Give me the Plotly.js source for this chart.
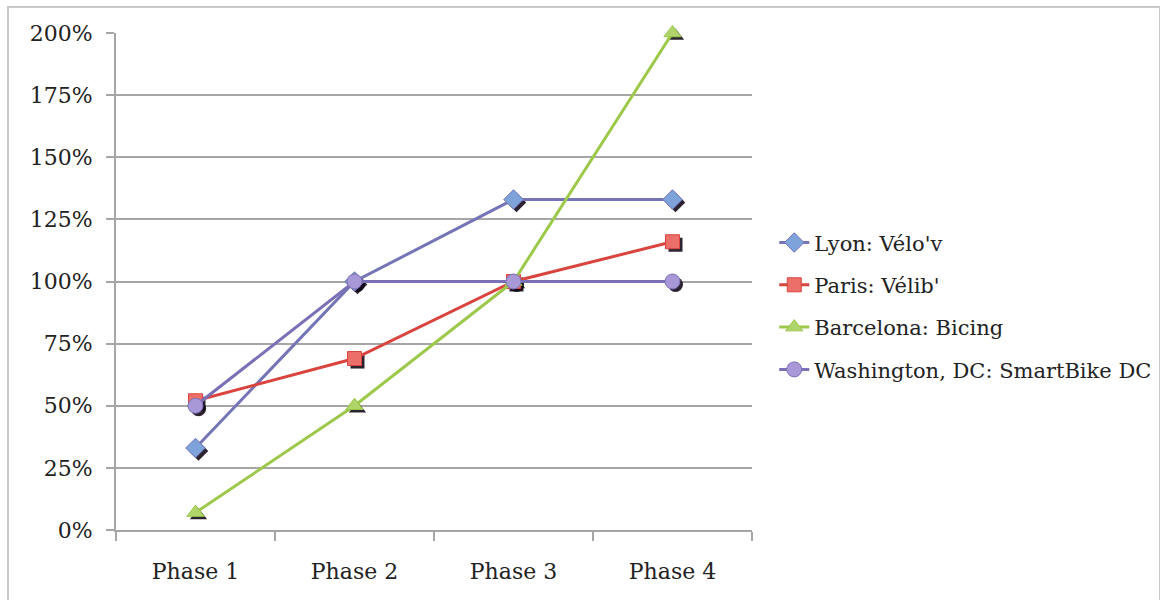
<!DOCTYPE html>
<html>
<head>
<meta charset="utf-8">
<script src="https://cdn.plot.ly/plotly-3.0.1.min.js"></script>
<style>
  html, body { margin: 0; padding: 0; background: #fff; }
  #chart { position: absolute; left: 0; top: 0; width: 1160px; height: 600px; }
  #frame { position: absolute; left: 7px; top: 6px; width: 1150px; height: 620px;
           border: 2px solid #c9c9c9; pointer-events: none; }
</style>
</head>
<body>
<div id="chart"></div>
<div id="frame"></div>
<script>
// Growth of bike-share systems by rollout phase (percent)
const phases = ['Phase 1', 'Phase 2', 'Phase 3', 'Phase 4'];
const lyon = [33, 100, 133, 133];
const paris = [52, 69, 100, 116];
const barcelona = [7, 50, 100, 200];
const washington = [50, 100, 100, 100];
const yTicks = [0, 25, 50, 75, 100, 125, 150, 175, 200];
const yTickText = yTicks.map(v => v + '%');

const seriesDefs = [
  { name: 'Lyon: Vélo\'v', y: lyon, line: '#7474b6', fill: '#7ea3da', symbol: 'diamond', size: 15 },
  { name: 'Paris: Vélib\'', y: paris, line: '#d9443f', fill: '#ec6f69', symbol: 'square', size: 14 },
  { name: 'Barcelona: Bicing', y: barcelona, line: '#9dc94a', fill: '#aed46a', symbol: 'triangle-up', size: 15 },
  { name: 'Washington, DC: SmartBike DC', y: washington, line: '#7a70b6', fill: '#a898d8', symbol: 'circle', size: 15 }
];

const font = 'DejaVu Serif, serif';
const plotW = 636, plotH = 497;
const dx = 3 / plotW * 4;       // shadow offset in category units
const dy = 3 / plotH * 200;     // shadow offset in percent units

const traces = [];
// empty trace that holds the visible axes and gridlines
traces.push({
  x: phases, y: phases.map(() => null), xaxis: 'x', yaxis: 'y', type: 'scatter',
  mode: 'markers', showlegend: false, hoverinfo: 'skip'
});
// drop shadows under the markers
seriesDefs.forEach(s => {
  traces.push({
    x: phases, y: s.y, xaxis: 'x2', yaxis: 'y2', type: 'scatter', mode: 'markers',
    showlegend: false, hoverinfo: 'skip', cliponaxis: false,
    marker: { symbol: s.symbol, size: s.size, color: 'rgba(15,5,20,0.88)' }
  });
});
// series lines and markers
seriesDefs.forEach((s, i) => {
  traces.push({
    x: phases, y: s.y, xaxis: 'x3', yaxis: 'y3', type: 'scatter', mode: 'lines+markers',
    name: s.name, legendgroup: 'g' + i, cliponaxis: false,
    line: { color: s.line, width: 3 },
    marker: { symbol: s.symbol, size: s.size, color: s.fill, line: { color: s.line, width: 1 } }
  });
});

const hidden = { visible: false, fixedrange: true };
const layout = {
  width: 1160, height: 600,
  margin: { l: 116, r: 408, t: 33, b: 70, autoexpand: false },
  paper_bgcolor: '#ffffff', plot_bgcolor: '#ffffff',
  font: { family: font, size: 22, color: '#222' },
  showlegend: true,
  legend: {
    x: 1.035, xanchor: 'left', y: 0.45, yanchor: 'middle',
    font: { family: font, size: 21, color: '#222' },
    bgcolor: 'rgba(0,0,0,0)', itemwidth: 30, tracegroupgap: 12
  },
  xaxis: {
    type: 'category', categoryorder: 'array', categoryarray: phases,
    range: [-0.5, 3.5], tickson: 'boundaries',
    ticks: 'outside', ticklen: 9, tickwidth: 2, tickcolor: '#a6a6a6',
    showline: true, linecolor: '#a6a6a6', linewidth: 2,
    showgrid: false, zeroline: false,
    tickfont: { family: font, size: 22, color: '#222' }, ticklabelstandoff: 21
  },
  yaxis: {
    range: [0, 200], tickvals: yTicks, ticktext: yTickText,
    ticks: 'outside', ticklen: 8, tickwidth: 2, tickcolor: '#a6a6a6',
    showline: true, linecolor: '#a6a6a6', linewidth: 2,
    showgrid: true, gridcolor: '#a6a6a6', gridwidth: 2, zeroline: false,
    tickfont: { family: font, size: 22, color: '#222' }, ticklabelstandoff: 9
  },
  xaxis2: Object.assign({ overlaying: 'x', type: 'category', categoryarray: phases,
                          range: [-0.5 - dx, 3.5 - dx] }, hidden),
  yaxis2: Object.assign({ overlaying: 'y', range: [dy, 200 + dy] }, hidden),
  xaxis3: Object.assign({ overlaying: 'x', type: 'category', categoryarray: phases,
                          range: [-0.5, 3.5] }, hidden),
  yaxis3: Object.assign({ overlaying: 'y', range: [0, 200] }, hidden)
};

Plotly.newPlot('chart', traces, layout, { staticPlot: true, displayModeBar: false });
</script>
</body>
</html>
